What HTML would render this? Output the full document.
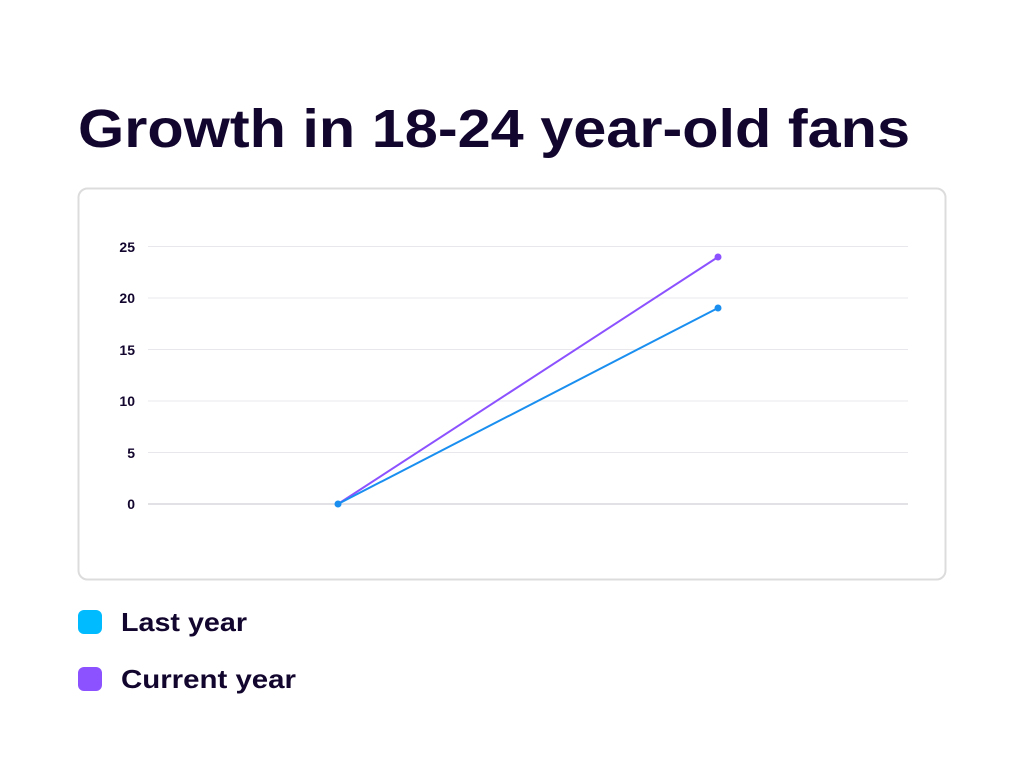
<!DOCTYPE html>
<html><head><style>body{margin:0;background:#fff}svg{display:block}</style></head>
<body>
<svg width="1024" height="768" xmlns="http://www.w3.org/2000/svg" font-family="Liberation Sans, sans-serif">
<rect width="1024" height="768" fill="#fff"/>
<text x="78" y="147" font-size="54" font-weight="bold" fill="#13062e" textLength="832" lengthAdjust="spacingAndGlyphs">Growth in 18-24 year-old fans</text>
<rect x="78.5" y="188.5" width="867" height="391" rx="9" fill="#fff" stroke="#dcdcdc" stroke-width="2"/>
<g stroke="#e8e8ec" stroke-width="1">
<line x1="148" x2="908" y1="246.5" y2="246.5"/>
<line x1="148" x2="908" y1="298" y2="298"/>
<line x1="148" x2="908" y1="349.5" y2="349.5"/>
<line x1="148" x2="908" y1="401" y2="401"/>
<line x1="148" x2="908" y1="452.5" y2="452.5"/>
</g>
<line x1="148" x2="908" y1="504" y2="504" stroke="#d8d8de" stroke-width="1.5"/>
<g font-size="14" font-weight="bold" fill="#13062e" text-anchor="end">
<text x="135" y="252">25</text><text x="135" y="303">20</text><text x="135" y="355">15</text>
<text x="135" y="406">10</text><text x="135" y="458">5</text><text x="135" y="509">0</text>
</g>
<line x1="338" y1="504" x2="718" y2="257" stroke="#8c52ff" stroke-width="2"/>
<circle cx="718" cy="257" r="3.5" fill="#8c52ff"/>
<line x1="338" y1="504" x2="718" y2="308" stroke="#1a8ff0" stroke-width="2"/>
<circle cx="718" cy="308" r="3.5" fill="#1a8ff0"/>
<circle cx="338" cy="504" r="3.5" fill="#1a8ff0"/>
<rect x="78" y="610" width="24" height="24" rx="6" fill="#00bbff"/>
<rect x="78" y="667" width="24" height="24" rx="6" fill="#8c52ff"/>
<text x="121" y="631" font-size="26" font-weight="bold" fill="#13062e" textLength="126" lengthAdjust="spacingAndGlyphs">Last year</text>
<text x="121" y="688" font-size="26" font-weight="bold" fill="#13062e" textLength="175" lengthAdjust="spacingAndGlyphs">Current year</text>
</svg>
</body></html>
